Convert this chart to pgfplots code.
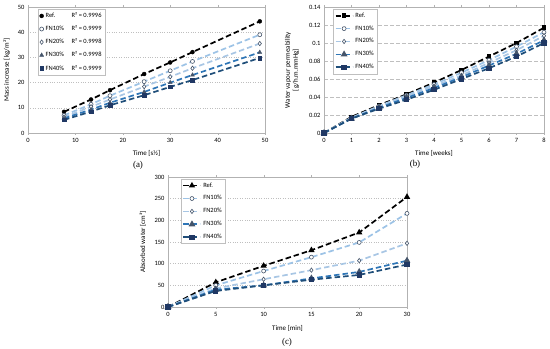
\documentclass[border=0pt]{standalone}
\usepackage{pgfplots}
\pgfplotsset{compat=1.18}
\usepackage{fontspec}
\setmainfont{Carlito}
\newfontfamily\capfont{Liberation Serif}
\definecolor{cfa}{HTML}{9DC3E6}
\definecolor{cfb}{HTML}{A8C6E4}
\definecolor{cfc}{HTML}{2E75B6}
\definecolor{cfd}{HTML}{1F4E79}
\definecolor{mk}{HTML}{44546A}
\definecolor{mkd}{HTML}{203864}
\definecolor{gridc}{HTML}{BFBFBF}
\pgfplotsset{
  common/.style={
    scale only axis,
    axis line style={draw=gray!60, line width=0.5pt},
    /pgf/number format/assume math mode=true,
    ticklabel style={font=\fontsize{6.5}{7}\selectfont},
    label style={font=\fontsize{7}{8}\selectfont},
    xtick align=outside, ytick style={draw=none},
    xtick style={draw=gray!60},
    major tick length=2bp,
    ymajorgrids,
    tick label style={/pgf/number format/fixed},
    xlabel style={at={(axis description cs:0.5,-0.165)}, anchor=center},
    legend style={draw=gray!50, line width=0.4pt, font=\fontsize{6.5}{7}\selectfont,
      anchor=north west, inner sep=1.5bp, row sep=2.2bp, cells={anchor=west}},
  },
  lr/.style={black, dashed, dash pattern=on 5.5bp off 3bp, line width=1.7bp},
  mO/.style={mark=*, mark size=2bp, mark options={solid, draw=mk, fill=white, line width=0.6pt}},
  mD/.style={mark=diamond*, mark size=2.2bp, mark options={solid, draw=mk, fill=white, line width=0.6pt}},
  mT/.style={mark=triangle*, mark size=2.3bp, mark options={solid, draw=mk, fill=mk}},
  mS/.style={mark=square*, mark size=1.8bp, mark options={solid, draw=mkd, fill=mkd}},
}
\begin{document}
\begin{tikzpicture}[x=1bp,y=1bp]
\useasboundingbox (0,0) rectangle (550,348);
% ---------- (a)
\begin{axis}[common, at={(28bp,215bp)}, anchor=south west, width=237bp, height=126bp,
  xmin=0, xmax=50, ymin=0, ymax=50, xtick={0,10,...,50}, ytick={0,10,...,50},
  grid style={gridc, dotted, line width=0.5pt},
  xlabel={Time [s½]}, ylabel={Mass increase [kg/m²]},
  ylabel style={at={(axis description cs:-0.089,0.5)}, anchor=center},
  legend style={at={(axis description cs:0.042,0.984)}, row sep=2.6bp},
  legend cell align=left]
\addplot[forget plot, lr, black] coordinates {(7.6,8.4)(13.3,13.3)(17.3,17.0)(24.5,23.4)(30,28.0)(34.7,32.1)(48.9,44.3)};
\addplot[forget plot, lr, cfa] coordinates {(7.6,7.0)(13.3,11.4)(17.3,14.8)(24.5,20.4)(30,24.7)(34.7,28.4)(48.9,39.0)};
\addplot[forget plot, lr, cfb] coordinates {(7.6,6.3)(13.3,10.4)(17.3,13.3)(24.5,18.4)(30,22.3)(34.7,25.7)(48.9,35.5)};
\addplot[forget plot, lr, cfc] coordinates {(7.6,5.8)(13.3,9.3)(17.3,12.0)(24.5,16.3)(30,20.0)(34.7,23.0)(48.9,32.0)};
\addplot[forget plot, lr, cfd] coordinates {(7.6,5.2)(13.3,8.5)(17.3,11.0)(24.5,15.0)(30,18.3)(34.7,21.0)(48.9,29.8)};
\addplot[only marks, mark=*, mark size=2bp, black] coordinates {(7.6,8.4)(13.3,13.3)(17.3,17.0)(24.5,23.4)(30,28.0)(34.7,32.1)(48.9,44.3)};
\addlegendentry{\makebox[26bp][l]{Ref.}R² = 0.9996}
\addplot[only marks, mO] coordinates {(7.6,7.0)(13.3,11.4)(17.3,14.8)(24.5,20.4)(30,24.7)(34.7,28.4)(48.9,39.0)};
\addlegendentry{\makebox[26bp][l]{FN10\%}R² = 0.9999}
\addplot[only marks, mD] coordinates {(7.6,6.3)(13.3,10.4)(17.3,13.3)(24.5,18.4)(30,22.3)(34.7,25.7)(48.9,35.5)};
\addlegendentry{\makebox[26bp][l]{FN20\%}R² = 0.9998}
\addplot[only marks, mT] coordinates {(7.6,5.8)(13.3,9.3)(17.3,12.0)(24.5,16.3)(30,20.0)(34.7,23.0)(48.9,32.0)};
\addlegendentry{\makebox[26bp][l]{FN30\%}R² = 0.9998}
\addplot[only marks, mS] coordinates {(7.6,5.2)(13.3,8.5)(17.3,11.0)(24.5,15.0)(30,18.3)(34.7,21.0)(48.9,29.8)};
\addlegendentry{\makebox[26bp][l]{FN40\%}R² = 0.9999}
\end{axis}
\node[font=\capfont\fontsize{9}{10}\selectfont] at (138,183) {(a)};
% ---------- (b)
\begin{axis}[common, at={(324bp,215bp)}, anchor=south west, width=220bp, height=126bp,
  xmin=0, xmax=8, ymin=0, ymax=0.14, xtick={0,...,8}, ytick={0,0.02,0.04,0.06,0.08,0.1,0.12,0.14},
  yticklabels={0,0.02,0.04,0.06,0.08,0.1,0.12,0.14},
  grid style={gridc, dashed, dash pattern=on 4bp off 2bp, line width=0.5pt},
  xlabel={Time [weeks]}, ylabel={Water vapour permeability\\{[g/h.m.mmHg]}},
  ylabel style={at={(axis description cs:-0.145,0.5)}, anchor=center, align=center},
  legend style={at={(axis description cs:0.041,0.984)}, row sep=3bp},
  legend image post style={mark repeat=1}]
\addplot[lr, black, mark=square*, mark size=1.4bp, mark options={solid}] coordinates {(0,0)(1,0.018)(2,0.031)(3,0.043)(4,0.056)(5,0.070)(6,0.085)(7,0.100)(8,0.117)};
\addlegendentry{Ref.}
\addplot[lr, cfa, mO] coordinates {(0,0)(1,0.017)(2,0.030)(3,0.042)(4,0.054)(5,0.067)(6,0.081)(7,0.096)(8,0.112)};
\addlegendentry{FN10\%}
\addplot[lr, cfb, mD] coordinates {(0,0)(1,0.017)(2,0.029)(3,0.041)(4,0.052)(5,0.064)(6,0.078)(7,0.092)(8,0.108)};
\addlegendentry{FN20\%}
\addplot[lr, cfc, mT] coordinates {(0,0)(1,0.016)(2,0.028)(3,0.039)(4,0.050)(5,0.062)(6,0.075)(7,0.088)(8,0.103)};
\addlegendentry{FN30\%}
\addplot[lr, cfd, mS] coordinates {(0,0)(1,0.016)(2,0.027)(3,0.037)(4,0.048)(5,0.060)(6,0.072)(7,0.085)(8,0.100)};
\addlegendentry{FN40\%}
\end{axis}
\node[font=\capfont\fontsize{9}{10}\selectfont] at (415,184) {(b)};
% ---------- (c)
\begin{axis}[common, at={(168bp,41bp)}, anchor=south west, width=239bp, height=130bp,
  xmin=0, xmax=5, ymin=0, ymax=300, xtick={0,...,5}, xticklabels={0,5,10,15,20,30}, ytick={0,50,...,300},
  grid style={gridc, dotted, line width=0.5pt},
  xlabel={Time [min]}, ylabel={Absorbed water [cm³]},
  ylabel style={at={(axis description cs:-0.105,0.5)}, anchor=center},
  legend style={at={(axis description cs:0.054,0.985)}, row sep=3bp},
  legend image post style={mark repeat=1}]
\addplot[lr, black, mark=triangle*, mark size=2bp, mark options={solid}] coordinates {(0,0)(1,57)(2,95)(3,131)(4,172)(5,254)};
\addlegendentry{Ref.}
\addplot[lr, cfa, mO] coordinates {(0,0)(1,50)(2,83)(3,115)(4,149)(5,216)};
\addlegendentry{FN10\%}
\addplot[lr, cfb, mD] coordinates {(0,0)(1,43)(2,64)(3,85)(4,107)(5,147)};
\addlegendentry{FN20\%}
\addplot[lr, cfc, mT] coordinates {(0,0)(1,40)(2,50)(3,66)(4,81)(5,107)};
\addlegendentry{FN30\%}
\addplot[lr, cfd, mS] coordinates {(0,0)(1,37)(2,50)(3,63)(4,74)(5,98)};
\addlegendentry{FN40\%}
\end{axis}
\node[font=\capfont\fontsize{9}{10}\selectfont] at (287,6) {(c)};
\end{tikzpicture}
\end{document}
